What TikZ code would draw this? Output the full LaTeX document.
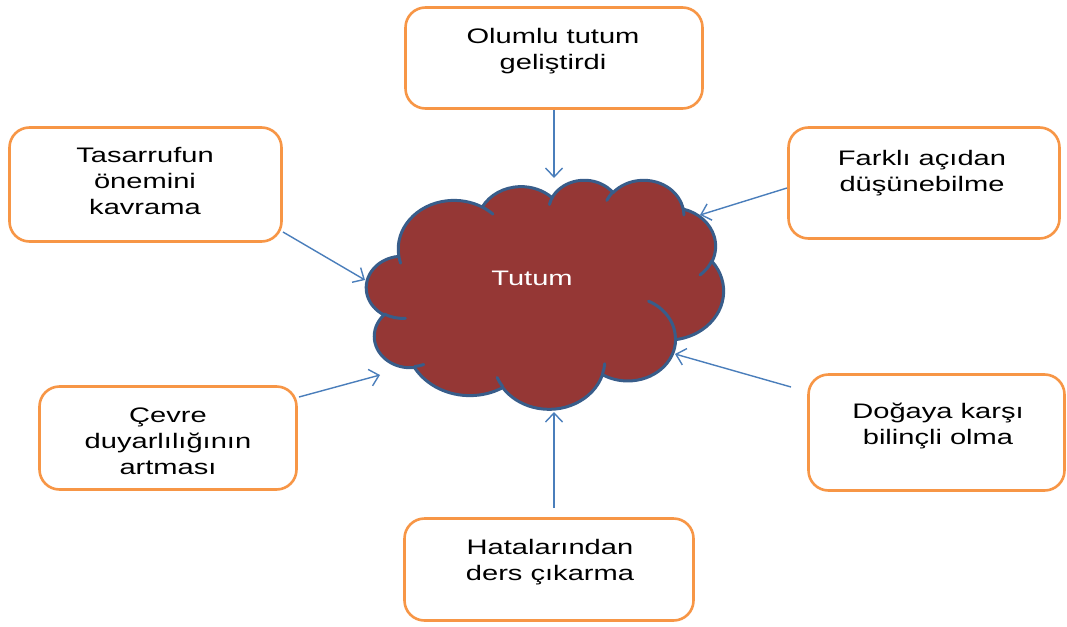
\documentclass[tikz,border=0pt]{standalone}
\usepackage{fontspec}
\setmainfont{Liberation Sans}[FakeStretch=1.385]
\usetikzlibrary{arrows.meta}

\definecolor{boxline}{HTML}{F79646}
\definecolor{cloudfill}{HTML}{953735}
\definecolor{cloudline}{HTML}{385D8A}
\definecolor{linkline}{HTML}{4A7EBB}

% frame of the cloud (left, top, width, height)
\def\cL{366.5}\def\cT{179.5}\def\cW{357}\def\cH{229}

% one elliptic arc of the cloud, given in a 432 x 432 grid:
% style name, x radius, y radius (grid units x100), start angle, sweep (degrees, clockwise)
\newcommand\mkarc[5]{%
  \pgfmathsetmacro\arcS{atan2(#2*sin(#4),#3*cos(#4))}%
  \pgfmathsetmacro\arcE{atan2(#2*sin(#4+#5),#3*cos(#4+#5))}%
  \pgfmathsetmacro\arcD{\arcE-\arcS}%
  \pgfmathsetmacro\arcD{\arcD<0 ? \arcD+360 : \arcD}%
  \pgfmathsetmacro\arcS{-1*(\arcS)}%
  \pgfmathsetmacro\arcD{-1*(\arcD)}%
  \pgfmathsetmacro\arcX{#2/432*\cW/100}%
  \pgfmathsetmacro\arcY{#3/432*\cH/100}%
  \edef\arcTmp{\noexpand\tikzset{#1/.style={start angle=\arcS,delta angle=\arcD,x radius=\arcX pt,y radius=\arcY pt}}}%
  \arcTmp}
% a point of the cloud grid
\newcommand\cpt[3]{\coordinate (#1) at ({\cL+#2/432*\cW},{\cT+#3/432*\cH});}

\tikzset{
  box/.style={draw=boxline, line width=2.6pt, rounded corners=20pt, fill=white},
  lbl/.style={font=\fontsize{21}{26}\selectfont, align=center, inner sep=0pt, anchor=north},
  cloudshape/.style={fill=cloudfill, draw=cloudline, line width=3pt, line join=round},
  crease/.style={draw=cloudline, line width=3pt, line cap=round},
  link/.style={draw=linkline, line width=1.4pt,
    -{Straight Barb[length=9pt, width=17pt, line width=1.4pt]}},
}

\begin{document}
\begin{tikzpicture}[x=1pt, y=-1pt]
\useasboundingbox (0,0) rectangle (1067,626);
\fill[white] (0,0) rectangle (1067,626);

% outline arcs
\mkarc{ca1}{6753}{9190}{-190.487483}{123.780533}
\mkarc{ca2}{5333}{7267}{-144.102383}{89.945233}
\mkarc{ca3}{4365}{5945}{-145.807917}{99.723017}
\mkarc{ca4}{4857}{6595}{-130.986067}{117.241733}
\mkarc{ca5}{5333}{7273}{-78.708883}{109.026917}
\mkarc{ca6}{6775}{9220}{-46.26725}{130.269}
\mkarc{ca7}{5785}{7867}{0.625017}{114.033333}
\mkarc{ca8}{6752}{9215}{22.4516}{115.17255}
\mkarc{ca9}{7720}{10543}{66.242633}{75.711017}
\mkarc{ca10}{4360}{5918}{-274.942083}{146.735567}
\mkarc{ca11}{4345}{5945}{-246.8285}{152.51885}
% inner crease arcs
\mkarc{cb1}{4345}{5945}{86.742}{26.4295}
\mkarc{cb2}{4360}{5918}{73.610467}{11.447467}
\mkarc{cb3}{6752}{9215}{137.62415}{14.0811}
\mkarc{cb4}{6752}{9215}{6.453267}{15.99835}
\mkarc{cb5}{5785}{7867}{-70.29235}{70.917367}
\mkarc{cb6}{5333}{7273}{30.318033}{27.7515}
\mkarc{cb7}{4857}{6595}{-13.744333}{14.8589}
\mkarc{cb8}{4857}{6595}{-149.18145}{18.195367}
\mkarc{cb9}{4365}{5945}{-163.494267}{17.68635}
\mkarc{cb10}{6753}{9190}{-66.70695}{12.31935}
\mkarc{cb11}{6753}{9190}{157.65435}{11.858167}

\cpt{c0}{39.00}{143.70}
\cpt{k1}{46.93}{261.77}
\cpt{k2}{69.28}{348.99}
\cpt{k3}{164.78}{390.90}
\cpt{k4}{288.27}{347.51}
\cpt{k5}{341.29}{229.54}
\cpt{k6}{417.98}{153.54}
\cpt{k7}{383.24}{54.26}
\cpt{k8}{290.78}{39.52}
\cpt{k9}{221.41}{47.20}
\cpt{k10}{140.00}{51.92}
\cpt{k11}{41.27}{157.89}

% cloud
\draw[cloudshape] (c0) arc[ca1] arc[ca2] arc[ca3] arc[ca4] arc[ca5] arc[ca6]
  arc[ca7] arc[ca8] arc[ca9] arc[ca10] arc[ca11] -- cycle;
\draw[crease] (k1) arc[cb1];
\draw[crease] (k2) arc[cb2];
\draw[crease] (k3) arc[cb3];
\draw[crease] (k4) arc[cb4];
\draw[crease] (k5) arc[cb5];
\draw[crease] (k6) arc[cb6];
\draw[crease] (k7) arc[cb7];
\draw[crease] (k8) arc[cb8];
\draw[crease] (k9) arc[cb9];
\draw[crease] (k10) arc[cb10];
\draw[crease] (k11) arc[cb11];
\node[font=\fontsize{21}{26}\selectfont, text=white, anchor=base, inner sep=0pt]
  (tutum) at (532,285) {Tutum};

% boxes
\node[box, minimum width=297pt, minimum height=101pt] (b1) at (554,58) {};
\node[box, minimum width=272pt, minimum height=114pt] (b2) at (145.5,184.5) {};
\node[box, minimum width=271pt, minimum height=111pt] (b3) at (924,183) {};
\node[box, minimum width=257pt, minimum height=103pt] (b4) at (168,438) {};
\node[box, minimum width=256pt, minimum height=116pt] (b5) at (936.5,432.5) {};
\node[box, minimum width=289pt, minimum height=102pt] (b6) at (549,569.5) {};

\node[lbl] (l1) at (553,24.8) {\strut Olumlu tutum\\geliştirdi};
\node[lbl] (l2) at (145,143.8) {\strut Tasarrufun\\önemini\\kavrama};
\node[lbl] (l3) at (922,146.8) {\strut Farklı açıdan\\düşünebilme};
\node[lbl] (l4) at (168,403.8) {\strut Çevre\\duyarlılığının\\artması};
\node[lbl] (l5) at (938,399.8) {\strut Doğaya karşı\\bilinçli olma};
\node[lbl] (l6) at (550,535.8) {\strut Hatalarından\\ders çıkarma};

% connector ends
\coordinate (t1) at (554,178);
\coordinate (s2) at (283,232);  \coordinate (t2) at (365,280);
\coordinate (s3) at (787,188);  \coordinate (t3) at (700,215);
\coordinate (s4) at (299,397);  \coordinate (t4) at (380,375);
\coordinate (s5) at (791,387);  \coordinate (t5) at (675,354);
\coordinate (s6) at (554,508);  \coordinate (t6) at (554,412);

\draw[link] (b1.south) -- (t1);
\draw[link] (s2) -- (t2);
\draw[link] (s3) -- (t3);
\draw[link] (s4) -- (t4);
\draw[link] (s5) -- (t5);
\draw[link] (s6) -- (t6);
\end{tikzpicture}
\end{document}
